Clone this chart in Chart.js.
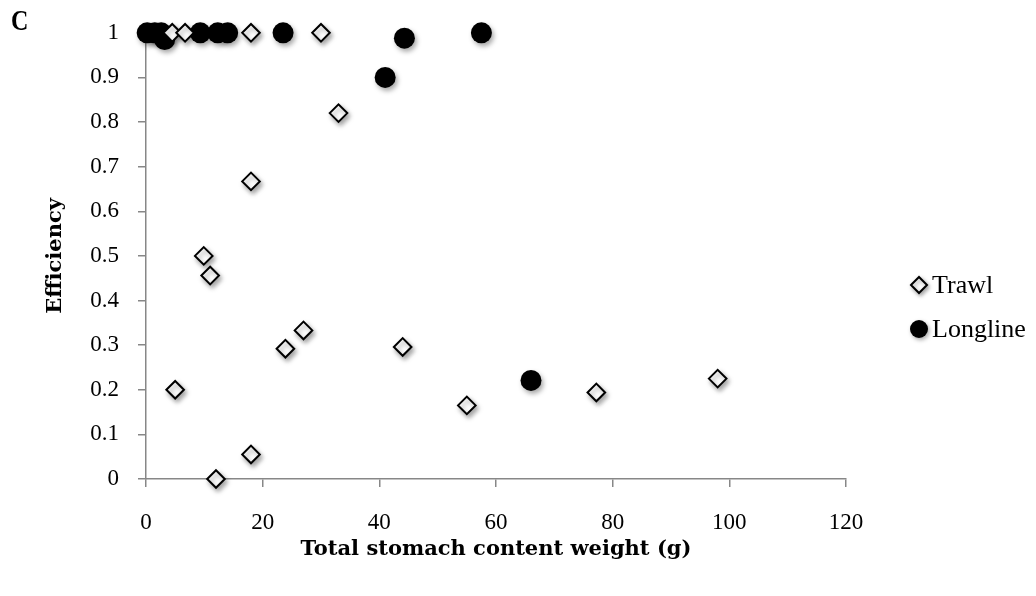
<!DOCTYPE html>
<html>
<head>
<meta charset="utf-8">
<script src="https://cdn.jsdelivr.net/npm/chart.js@4.4.1/dist/chart.umd.min.js"></script>
<style>
  html, body { margin: 0; padding: 0; background: #fff; }
  #wrap { position: relative; width: 1036px; height: 596px; }
  #panel {
    position: absolute; left: 11px; top: 5px;
    font: bold 30px/1 "Liberation Serif", serif; color: #000;
    transform: scaleX(0.8); transform-origin: left top;
  }
</style>
</head>
<body>
<div id="wrap">
  <canvas id="chart" width="1036" height="596"></canvas>
  <div id="panel">C</div>
</div>
<script>
// --- data ---
const seriesNames = ['Trawl', 'Longline'];
const trawlWeight = [4.5, 6.7, 18, 30, 5, 9.9, 11, 12, 18, 18, 23.9, 27, 33, 44, 55, 77.2, 98];
const trawlEff = [1, 1, 1, 1, 0.2, 0.5, 0.456, 0, 0.055, 0.667, 0.292, 0.333, 0.82, 0.296, 0.165, 0.194, 0.225];
const longlineWeight = [0.2, 1.5, 2.6, 3.2, 9.3, 12.3, 14, 23.5, 41, 44.3, 57.5, 66];
const longlineEff = [1, 1, 1, 0.985, 1, 1, 1, 1, 0.9, 0.988, 1, 0.221];
const xTicks = [0, 20, 40, 60, 80, 100, 120];
const yTicks = [0, 0.1, 0.2, 0.3, 0.4, 0.5, 0.6, 0.7, 0.8, 0.9, 1];

const AXIS_GREY = '#878787';
const TICK_FONT = { family: '"Liberation Serif", serif', size: 23 };
const TITLE_FONT = { family: '"DejaVu Serif", serif', size: 21, weight: 'bold' };

const toPoints = (xs, ys) => xs.map((x, i) => ({ x, y: ys[i] }));

// soft drop shadow under the markers
const markerShadow = {
  id: 'markerShadow',
  beforeDatasetsDraw(chart) {
    const ctx = chart.ctx;
    ctx.save();
    ctx.shadowColor = 'rgba(0,0,0,0.35)';
    ctx.shadowBlur = 5;
    ctx.shadowOffsetX = 2;
    ctx.shadowOffsetY = 3;
  },
  afterDatasetsDraw(chart) {
    chart.ctx.restore();
  }
};

// legend on the right, one row per series
const sideLegend = {
  id: 'sideLegend',
  afterDraw(chart) {
    const ctx = chart.ctx;
    const x0 = 919, y0 = 285, rowGap = 44;
    chart.data.datasets.forEach((ds, i) => {
      const y = y0 + i * rowGap;
      ctx.save();
      ctx.shadowColor = 'rgba(0,0,0,0.35)';
      ctx.shadowBlur = 4;
      ctx.shadowOffsetX = 1.5;
      ctx.shadowOffsetY = 2;
      ctx.fillStyle = ds.backgroundColor;
      ctx.strokeStyle = ds.borderColor;
      ctx.lineWidth = ds.borderWidth;
      Chart.helpers.drawPoint(ctx, { pointStyle: ds.pointStyle, radius: ds.pointStyle === 'circle' ? 9 : 8, borderWidth: ds.borderWidth }, x0, y);
      ctx.restore();
      ctx.fillStyle = '#000';
      ctx.font = '26px "Liberation Serif", serif';
      ctx.textBaseline = 'middle';
      ctx.textAlign = 'left';
      ctx.fillText(ds.label, x0 + 13, y + 1);
    });
  }
};

new Chart(document.getElementById('chart'), {
  type: 'scatter',
  data: {
    datasets: [
      {
        label: seriesNames[0],
        data: toPoints(trawlWeight, trawlEff),
        pointStyle: 'rectRot',
        pointRadius: 8.8,
        backgroundColor: '#ffffff',
        borderColor: '#000000',
        borderWidth: 2,
        clip: false
      },
      {
        label: seriesNames[1],
        data: toPoints(longlineWeight, longlineEff),
        pointStyle: 'circle',
        pointRadius: 10.5,
        backgroundColor: '#000000',
        borderColor: '#000000',
        borderWidth: 0,
        clip: false
      }
    ]
  },
  options: {
    responsive: false,
    animation: false,
    layout: { autoPadding: false, padding: { left: 0, top: 25, right: 190, bottom: 0 } },
    plugins: { legend: { display: false }, tooltip: { enabled: false } },
    scales: {
      x: {
        type: 'linear',
        min: xTicks[0],
        max: xTicks[xTicks.length - 1],
        afterBuildTicks: (axis) => { axis.ticks = xTicks.map(v => ({ value: v })); },
        afterFit: (axis) => { axis.height = 117; },
        grid: { display: true, drawOnChartArea: false, drawTicks: true, tickLength: 8, color: AXIS_GREY, lineWidth: 1.5 },
        border: { display: true, color: AXIS_GREY, width: 1.5 },
        ticks: { color: '#000', font: TICK_FONT, padding: 22, maxRotation: 0 },
        title: { display: true, text: 'Total stomach content weight (g)', color: '#000', font: TITLE_FONT, padding: { top: 0, bottom: 34 } }
      },
      y: {
        min: yTicks[0],
        max: yTicks[yTicks.length - 1],
        afterBuildTicks: (axis) => { axis.ticks = yTicks.map(v => ({ value: v })); },
        afterFit: (axis) => { axis.width = 146; },
        grid: { display: true, drawOnChartArea: false, drawTicks: true, tickLength: 8, color: AXIS_GREY, lineWidth: 1.5 },
        border: { display: true, color: AXIS_GREY, width: 1.5 },
        ticks: { color: '#000', font: TICK_FONT, padding: 19, callback: (v) => String(Number(v.toFixed(1))) },
        title: { display: true, text: 'Efficiency', color: '#000', font: TITLE_FONT, padding: { top: 43, bottom: 0 } }
      }
    }
  },
  plugins: [markerShadow, sideLegend]
});
</script>
</body>
</html>
